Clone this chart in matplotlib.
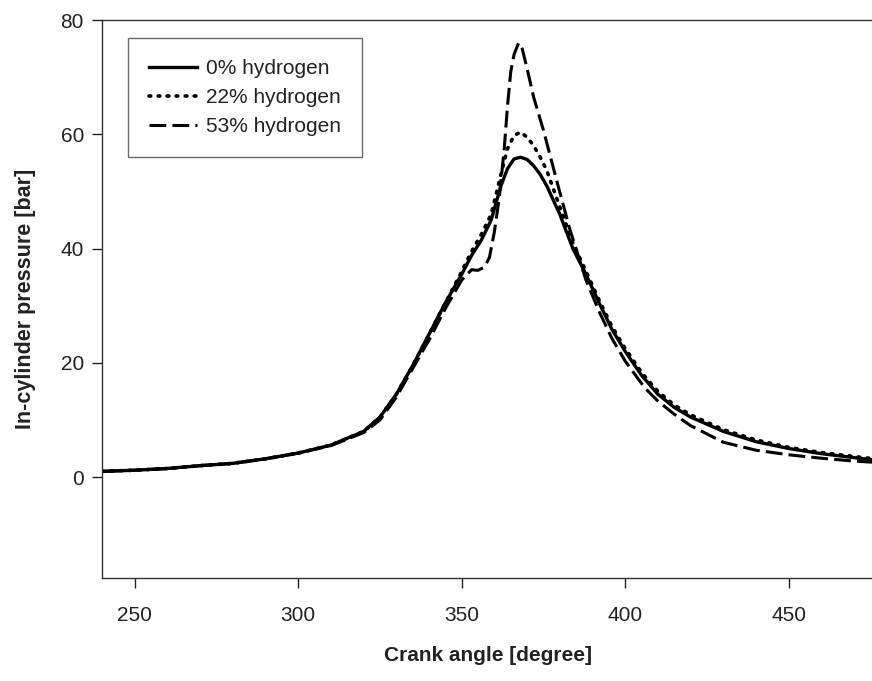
import matplotlib
matplotlib.use("Agg")
import matplotlib.pyplot as plt

plt.rcParams["font.family"] = ["Liberation Sans", "DejaVu Sans"]

##### data ##############################
angle_0 = [240, 250, 260, 270, 280, 290, 300, 310, 320, 325, 330, 335, 340, 345,
           350, 353, 356, 359, 362, 364, 366, 368, 370, 372, 374, 376, 378, 380,
           384, 388, 392, 396, 400, 405, 410, 415, 420, 430, 440, 450, 460, 470, 476]
p_0 = [1.0, 1.2, 1.5, 2.0, 2.4, 3.2, 4.2, 5.6, 8.0, 10.5, 14.5, 19.5, 25.0, 30.5,
       35.5, 38.8, 41.5, 45.0, 51.0, 54.0, 55.7, 56.0, 55.6, 54.5, 53.0, 51.0, 48.5, 46.0,
       40.0, 35.5, 30.5, 25.8, 22.0, 17.8, 14.5, 12.2, 10.5, 8.0, 6.2, 5.0, 4.1, 3.4, 3.0]

angle_22 = [240, 250, 260, 270, 280, 290, 300, 310, 320, 325, 330, 335, 340, 345,
            350, 353, 356, 359, 362, 364, 366, 368, 370, 372, 374, 376, 378, 380,
            384, 388, 392, 396, 400, 405, 410, 415, 420, 430, 440, 450, 460, 470, 476]
p_22 = [1.0, 1.2, 1.5, 2.0, 2.4, 3.2, 4.2, 5.6, 8.0, 10.5, 14.5, 19.5, 25.0, 30.5,
        36.0, 39.5, 42.5, 46.0, 53.0, 57.5, 59.8, 60.4, 59.5, 58.0, 56.0, 53.7, 50.5, 47.3,
        41.0, 36.0, 31.0, 26.3, 22.5, 18.3, 15.0, 12.6, 10.9, 8.3, 6.5, 5.2, 4.3, 3.6, 3.2]

angle_53 = [240, 250, 260, 270, 280, 290, 300, 310, 320, 325, 330, 335, 340, 345,
            350, 353, 355, 357, 358.5, 360, 361.5, 363, 364, 365, 366, 367.4, 368.5, 370,
            372, 375, 379, 383, 388, 392, 396, 400, 406, 410, 415, 420, 430, 440, 450,
            460, 470, 476]
p_53 = [1.0, 1.2, 1.5, 2.0, 2.4, 3.2, 4.2, 5.5, 7.8, 10.0, 14.0, 19.0, 24.0, 29.5,
        34.5, 36.3, 36.2, 36.8, 38.5, 43.0, 49.0, 57.5, 65.0, 71.0, 74.0, 76.0, 75.0, 71.5,
        66.5, 60.7, 52.0, 43.5, 34.5, 29.0, 24.2, 20.3, 15.6, 13.3, 11.0, 9.0, 6.1, 4.7, 3.9,
        3.3, 2.8, 2.6]

labels = ["0% hydrogen", "22% hydrogen", "53% hydrogen"]

fig = plt.figure(figsize=(8.72, 6.81), dpi=100)
ax = fig.add_axes([0.117, 0.151, 0.885, 0.8194])

ax.plot(angle_0, p_0, color="black", lw=2.4, ls="-", label=labels[0])
ax.plot(angle_22, p_22, color="black", lw=2.6, ls=(0, (0.5, 2.0)),
        dash_capstyle="round", label=labels[1])
ax.plot(angle_53, p_53, color="black", lw=2.2, ls=(0, (5.5, 2.0)), label=labels[2])

ax.set_xlim(240, 476)
ax.set_ylim(-17.7, 80)
ax.set_xticks([250, 300, 350, 400, 450])
ax.set_yticks([0, 20, 40, 60, 80])
ax.tick_params(direction="out", length=7, width=1, labelsize=15, colors="#222222",
               pad=13)
ax.tick_params(axis="y", pad=6)
ax.spines["right"].set_visible(False)
for s in ["left", "bottom", "top"]:
    ax.spines[s].set_linewidth(1)
    ax.spines[s].set_color("#333333")

ax.set_xlabel("Crank angle [degree]", fontsize=15, fontweight="bold", labelpad=15,
              color="#222222")
ax.set_ylabel("In-cylinder pressure [bar]", fontsize=15.5, fontweight="bold", labelpad=18,
              color="#222222")

leg = ax.legend(loc="upper left", bbox_to_anchor=(0.034, 0.968), fontsize=15,
                frameon=True, fancybox=False, handlelength=2.3, borderpad=1.0,
                labelspacing=0.49, handletextpad=0.45, borderaxespad=0)
leg.get_frame().set_edgecolor("#444444")
leg.get_frame().set_linewidth(1)
for t in leg.get_texts():
    t.set_color("#222222")

plt.savefig("out.png", dpi=100)
